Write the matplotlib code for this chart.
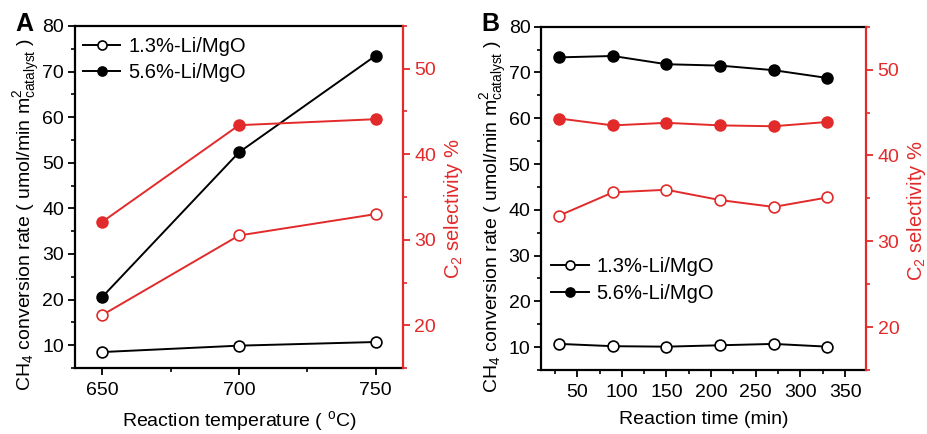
import matplotlib
matplotlib.use("Agg")
import matplotlib.pyplot as plt
from matplotlib.ticker import MultipleLocator
from matplotlib.lines import Line2D

plt.rcParams['font.family'] = ['Liberation Sans', 'DejaVu Sans']
plt.rcParams['mathtext.fontset'] = 'custom'
plt.rcParams['mathtext.rm'] = 'Liberation Sans'
plt.rcParams['mathtext.it'] = 'Liberation Sans:italic'
plt.rcParams['mathtext.bf'] = 'Liberation Sans:bold'

# ---- data ----
temp = [650, 700, 750]
rate_13_temp = [8.5, 9.9, 10.7]
rate_56_temp = [20.6, 52.3, 73.5]
sel_13_temp = [21.2, 30.5, 33.0]
sel_56_temp = [32.1, 43.4, 44.1]

time_min = [30, 90, 150, 210, 270, 330]
rate_13_time = [10.7, 10.2, 10.1, 10.4, 10.7, 10.1]
rate_56_time = [73.3, 73.6, 71.8, 71.5, 70.5, 68.8]
sel_13_time = [33.0, 35.7, 36.0, 34.8, 34.0, 35.1]
sel_56_time = [44.3, 43.5, 43.8, 43.5, 43.4, 43.9]

labels = ['1.3%-Li/MgO', '5.6%-Li/MgO']

RED = '#e22a2a'
ylabel_txt = r'CH$_4$ conversion rate ( umol/min m$^2_{\mathrm{catalyst}}$ )'
rlabel_txt = r'C$_2$ selectivity %'

fig = plt.figure(figsize=(9.28, 4.34), dpi=100)
axA = fig.add_axes([75/928, 1-368/434, 328/928, 342/434])
axB = fig.add_axes([541.5/928, 1-370/434, 325/928, 343.3/434])

ms = 7.8
lw = 1.4
mew = 1.2


def style(ax, ax2):
    for s in ['left', 'bottom', 'top']:
        ax.spines[s].set_linewidth(1.6)
    ax.spines['right'].set_visible(False)
    for s in ['left', 'bottom', 'top']:
        ax2.spines[s].set_visible(False)
    ax2.spines['right'].set_linewidth(1.6)
    ax2.spines['right'].set_color(RED)
    ax.tick_params(axis='both', which='major', direction='out', length=5, width=1.3,
                   labelsize=14, pad=3)
    ax.tick_params(axis='both', which='minor', direction='out', length=3, width=1.2)
    ax.tick_params(axis='x', which='both', top=False)
    ax.tick_params(axis='x', which='major', pad=5)
    ax2.tick_params(axis='y', which='major', direction='out', length=5, width=1.3,
                    labelsize=14, colors=RED, pad=3)
    ax2.tick_params(axis='y', which='minor', direction='out', length=3, width=1.2,
                    colors=RED)
    ax.set_ylim(5, 80)
    ax.yaxis.set_major_locator(MultipleLocator(10))
    ax.yaxis.set_minor_locator(MultipleLocator(5))
    ax2.set_ylim(15, 55)
    ax2.yaxis.set_major_locator(MultipleLocator(10))
    ax2.yaxis.set_minor_locator(MultipleLocator(5))
    ax.set_ylabel(ylabel_txt, fontsize=14)
    ax.yaxis.set_label_coords(-0.10, 0.448)
    ax2.set_ylabel(rlabel_txt, fontsize=14.5, color=RED)
    ax2.yaxis.set_label_coords(1.118, 0.465)


def plot_panel(ax, x, r13, r56, s13, s56):
    ax2 = ax.twinx()
    ax.plot(x, r13, '-o', color='black', lw=lw, ms=ms, mfc='white', mec='black', mew=mew, zorder=3)
    ax.plot(x, r56, '-o', color='black', lw=lw, ms=ms, mfc='black', mec='black', mew=mew, zorder=3)
    ax2.plot(x, s13, '-o', color=RED, lw=lw, ms=ms, mfc='white', mec=RED, mew=mew, zorder=3)
    ax2.plot(x, s56, '-o', color=RED, lw=lw, ms=ms, mfc=RED, mec=RED, mew=mew, zorder=3)
    style(ax, ax2)
    return ax2


axA2 = plot_panel(axA, temp, rate_13_temp, rate_56_temp, sel_13_temp, sel_56_temp)
axA.set_xlim(640, 760)
axA.xaxis.set_major_locator(MultipleLocator(50))
axA.xaxis.set_minor_locator(MultipleLocator(25))
axA.set_xlabel(r'Reaction temperature ( $^{\mathrm{o}}$C)', fontsize=14, labelpad=7)

axB2 = plot_panel(axB, time_min, rate_13_time, rate_56_time, sel_13_time, sel_56_time)
axB.set_xlim(10, 374)
axB.xaxis.set_major_locator(MultipleLocator(50))
axB.xaxis.set_minor_locator(MultipleLocator(25))
axB.set_xlabel('Reaction time (min)', fontsize=14, labelpad=7)

handles = [
    Line2D([], [], color='black', lw=lw, marker='o', ms=6.5, mfc='white', mec='black', mew=mew),
    Line2D([], [], color='black', lw=lw, marker='o', ms=6.5, mfc='black', mec='black', mew=mew),
]
axA.legend(handles, labels, loc='upper left', frameon=False, fontsize=14.5,
           handlelength=1.85, handletextpad=0.4, labelspacing=0.35,
           bbox_to_anchor=(-0.015, 1.005), borderaxespad=0.25)
axB.legend(handles, labels, loc='center left', frameon=False, fontsize=14.5,
           handlelength=1.85, handletextpad=0.4, labelspacing=0.38,
           bbox_to_anchor=(-0.01, 0.262), borderaxespad=0.25)

fig.text(15/928, 1-31/434, 'A', fontsize=18, fontweight='bold', ha='left', va='baseline')
fig.text(481/928, 1-31/434, 'B', fontsize=18, fontweight='bold', ha='left', va='baseline')

fig.savefig('out.png', dpi=100)
